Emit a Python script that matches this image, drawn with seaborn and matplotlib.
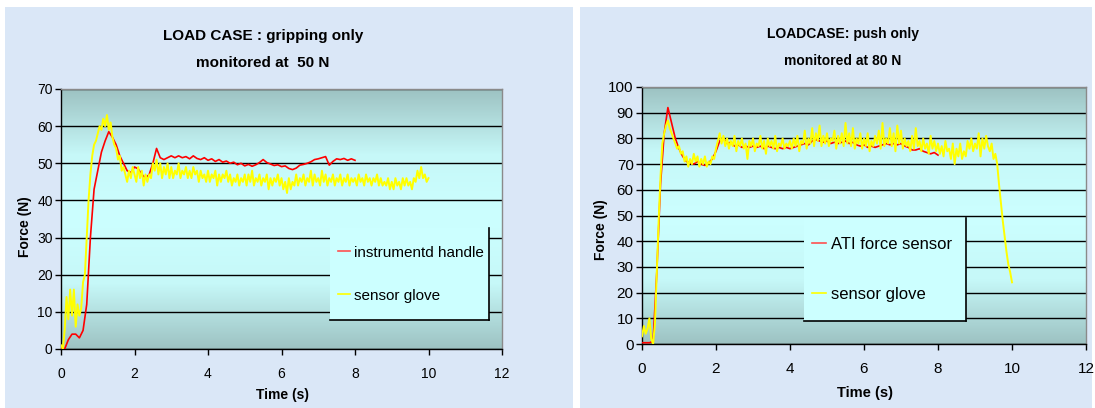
import numpy as np
import pandas as pd
import seaborn as sns
import matplotlib.pyplot as plt
from matplotlib.patches import Rectangle
from matplotlib.lines import Line2D
from matplotlib.colors import LinearSegmentedColormap

# ---- data ----
# sampling times
t_glove = np.round(np.arange(0, 10.001, 0.05), 2)   # sensor glove, 0..10 s
t_ref = np.round(np.arange(0, 8.001, 0.1), 1)       # reference sensor, 0..8 s

# LOAD CASE : gripping only (left)
grip_handle = [0, 0, 2.5, 4, 4, 3, 5, 12, 30, 43,
               48, 53, 56, 58.5, 57, 55, 52, 50, 48, 47.5,
               49, 48.5, 47, 46, 47, 50, 54, 51.5, 51, 51.5,
               52, 51.5, 52, 51.5, 51.8, 51.2, 52, 51.3, 51, 51.5,
               50.8, 51.2, 50.5, 51, 50.3, 50.6, 50, 50.3, 49.6, 50,
               49.3, 49.7, 49.2, 49.6, 50.2, 51, 50.2, 49.8, 49.4, 49.6,
               49.1, 49.3, 48.6, 48.3, 48.7, 49.5, 49.7, 50, 50.4, 51,
               51.2, 51.5, 51.8, 49.5, 50.5, 51.2, 51, 51.3, 50.8, 51.2, 50.8]
grip_glove = [1, 0, 5, 14, 8, 16, 9, 16, 6, 12, 9, 11, 18, 20, 30, 40, 47, 52, 55, 56,
              58, 60, 59, 62, 60, 63, 59, 61, 57, 55, 54, 51, 52, 48, 49, 47, 45, 48, 46, 49,
              47, 45, 49, 46, 48, 44, 47, 45, 47, 46, 50, 48, 51, 47, 50, 46, 49, 47, 50, 46,
              49, 46, 48, 47, 50, 46, 48, 47, 49, 46, 48, 46, 49, 47, 48, 45, 48, 46, 47, 45,
              48, 45, 47, 46, 48, 44, 47, 45, 47, 46, 48, 45, 47, 44, 46, 45, 47, 44, 46, 45,
              47, 44, 47, 45, 48, 44, 46, 45, 47, 44, 46, 45, 47, 43, 46, 44, 46, 45, 47, 44,
              46, 43, 45, 42, 46, 43, 45, 44, 47, 44, 46, 45, 47, 44, 46, 45, 48, 44, 47, 45,
              46, 44, 48, 45, 47, 44, 46, 45, 47, 44, 46, 45, 47, 44, 46, 45, 47, 44, 46, 45,
              46, 44, 47, 45, 46, 44, 47, 45, 46, 44, 46, 45, 47, 44, 46, 44, 45, 44, 46, 43,
              45, 43, 46, 44, 45, 43, 46, 44, 46, 44, 45, 43, 46, 45, 48, 46, 49, 46, 47, 45,
              46]

# LOADCASE: push only (right)
push_ati = [0.5, 0.5, 0.5, 1, 28, 62, 82, 92, 86, 80,
            76, 73, 71, 70.5, 70, 71, 70, 69.5, 70.5, 72,
            75, 79, 80, 78, 78.5, 77, 77.5, 76.5, 77, 76.5,
            77, 76.5, 77, 76, 77, 76.5, 76, 76.5, 76, 76.5,
            76, 76.5, 77, 77.5, 78, 77.5, 79, 79.5, 79, 78.5,
            79, 78, 78.5, 78, 78.5, 79, 78, 78.5, 77.5, 77,
            77.5, 76.5, 77, 76.5, 77, 77.5, 78, 77.5, 78, 77.5,
            78, 77, 76.5, 75.5, 75.5, 76, 75, 74.5, 74, 74.5, 73.5]
push_glove = [3, 7, 4, 6, 10, 2, 0, 8, 28, 48, 65, 78, 82, 85, 87, 84, 82, 80, 78, 76,
              77, 74, 75, 71, 73, 69, 72, 70, 74, 71, 73, 69, 72, 70, 73, 69, 71, 70, 73, 72,
              76, 79, 82, 78, 81, 77, 80, 76, 79, 77, 81, 75, 79, 77, 80, 76, 78, 72, 79, 77,
              80, 75, 78, 77, 81, 76, 79, 74, 80, 77, 79, 76, 81, 75, 78, 77, 80, 76, 78, 77,
              79, 76, 80, 77, 81, 75, 79, 78, 83, 76, 80, 78, 84, 77, 82, 79, 85, 77, 81, 78,
              82, 77, 80, 79, 83, 76, 81, 78, 82, 77, 86, 78, 82, 77, 84, 76, 80, 78, 82, 76,
              80, 77, 82, 75, 79, 77, 81, 78, 83, 76, 86, 77, 80, 78, 84, 77, 82, 75, 85, 78,
              83, 76, 80, 77, 79, 75, 81, 76, 84, 77, 79, 75, 80, 76, 78, 74, 81, 76, 79, 75,
              78, 74, 77, 73, 79, 75, 76, 72, 78, 70, 76, 73, 78, 72, 75, 73, 79, 76, 80, 75,
              78, 76, 82, 73, 80, 76, 81, 77, 75, 78, 72, 74, 70, 62, 55, 48, 42, 36, 31, 28,
              24]

W, H = 1095, 408
fig = plt.figure(figsize=(W / 100, H / 100), dpi=100, facecolor='white')

# light blue slide background for each chart
bg = '#dae7f7'
fig.patches.append(Rectangle((5 / W, 0), 568 / W, 401 / H, transform=fig.transFigure,
                             facecolor=bg, edgecolor='none', zorder=-5))
fig.patches.append(Rectangle((580 / W, 0), 512 / W, 401 / H, transform=fig.transFigure,
                             facecolor=bg, edgecolor='none', zorder=-5))

cmap = LinearSegmentedColormap.from_list('plotarea', ['#9dc2c2', '#c6f8f8', '#ccffff',
                                                      '#c6f8f8', '#9dc2c2'])
grad = np.linspace(0, 1, 256).reshape(-1, 1)

font = ['Liberation Sans', 'DejaVu Sans']


def px_axes(x0, y0, x1, y1):
    # axes from pixel box (top-left origin)
    return fig.add_axes([x0 / W, (H - y1) / H, (x1 - x0) / W, (y1 - y0) / H])


def draw_panel(ax, t_r, f_r, t_g, f_g, ymax, tick_size):
    ax.imshow(grad, extent=[0, 1, 0, 1], transform=ax.transAxes, aspect='auto',
              cmap=cmap, zorder=0)
    df_r = pd.DataFrame({'Time': t_r, 'Force': f_r})
    df_g = pd.DataFrame({'Time': t_g, 'Force': f_g})
    sns.lineplot(data=df_r, x='Time', y='Force', ax=ax, color='#ff0000', lw=1.2,
                 estimator=None, zorder=3)
    sns.lineplot(data=df_g, x='Time', y='Force', ax=ax, color='#ffff00', lw=1.4,
                 estimator=None, zorder=4)
    ax.set_xlim(0, 12)
    ax.set_ylim(0, ymax)
    ax.set_xticks(range(0, 13, 2))
    ax.set_yticks(range(0, ymax + 1, 10))
    ax.yaxis.grid(True, color='black', lw=1)
    ax.set_axisbelow(True)
    ax.set_xlabel('')
    ax.set_ylabel('')
    for s in ['left', 'bottom']:
        ax.spines[s].set_color('black')
        ax.spines[s].set_linewidth(1)
    for s in ['top', 'right']:
        ax.spines[s].set_color('#8a8a8a')
        ax.spines[s].set_linewidth(1)
    ax.tick_params(direction='out', length=4, width=1, color='black', pad=2)
    for lab in ax.get_xticklabels() + ax.get_yticklabels():
        lab.set_family(font)
        lab.set_fontsize(tick_size)
    ax.tick_params(axis='x', pad=9)


def draw_legend(ax, box, labels, fsize, spacing):
    x0, y0, w, h = box
    ax.add_patch(Rectangle((x0, y0), w, h, transform=ax.transAxes, facecolor='#ccffff',
                           edgecolor='none', zorder=6))
    ax.add_line(Line2D([x0, x0 + w], [y0, y0], transform=ax.transAxes, color='black',
                       lw=1.2, zorder=7))
    ax.add_line(Line2D([x0 + w, x0 + w], [y0, y0 + h], transform=ax.transAxes,
                       color='black', lw=1.2, zorder=7))
    handles = [Line2D([], [], color='#ff5050', lw=1.2), Line2D([], [], color='#ffff00', lw=1.2)]
    leg = ax.legend(handles, labels, loc='center left', bbox_to_anchor=(x0, y0, w, h),
                    frameon=False, handlelength=0.8, handletextpad=0.3,
                    labelspacing=spacing, borderaxespad=0.1,
                    prop={'family': font, 'size': fsize})
    leg.set_zorder(8)


# left chart: gripping only
ax1 = px_axes(61, 89, 502, 349)
draw_panel(ax1, t_ref, grip_handle, t_glove, grip_glove, 70, 10)
draw_legend(ax1, (0.61, 0.11, 0.36, 0.355), ['instrumentd handle', 'sensor glove'], 11, 1.9)
fig.text(263 / W, 1 - 36 / H, 'LOAD CASE : gripping only', ha='center', va='center',
         fontsize=11, weight='bold', family=font)
fig.text(263 / W, 1 - 63 / H, 'monitored at  50 N', ha='center', va='center',
         fontsize=11, weight='bold', family=font)
fig.text(25 / W, 1 - 227 / H, 'Force (N)', rotation=90, ha='center', va='center',
         fontsize=10, weight='bold', family=font)
fig.text(282 / W, 1 - 395 / H, 'Time (s)', ha='center', va='center',
         fontsize=10, weight='bold', family=font)

# right chart: push only
ax2 = px_axes(642, 87, 1086, 344)
draw_panel(ax2, t_ref, push_ati, t_glove, push_glove, 100, 11)
draw_legend(ax2, (0.365, 0.09, 0.365, 0.40), ['ATI force sensor', 'sensor glove'], 12, 2.1)
fig.text(843 / W, 1 - 34 / H, 'LOADCASE: push only', ha='center', va='center',
         fontsize=10, weight='bold', family=font)
fig.text(843 / W, 1 - 61 / H, 'monitored at 80 N', ha='center', va='center',
         fontsize=10, weight='bold', family=font)
fig.text(601 / W, 1 - 230 / H, 'Force (N)', rotation=90, ha='center', va='center',
         fontsize=10, weight='bold', family=font)
fig.text(865 / W, 1 - 393 / H, 'Time (s)', ha='center', va='center',
         fontsize=10.5, weight='bold', family=font)

plt.savefig('out.png', dpi=100)
